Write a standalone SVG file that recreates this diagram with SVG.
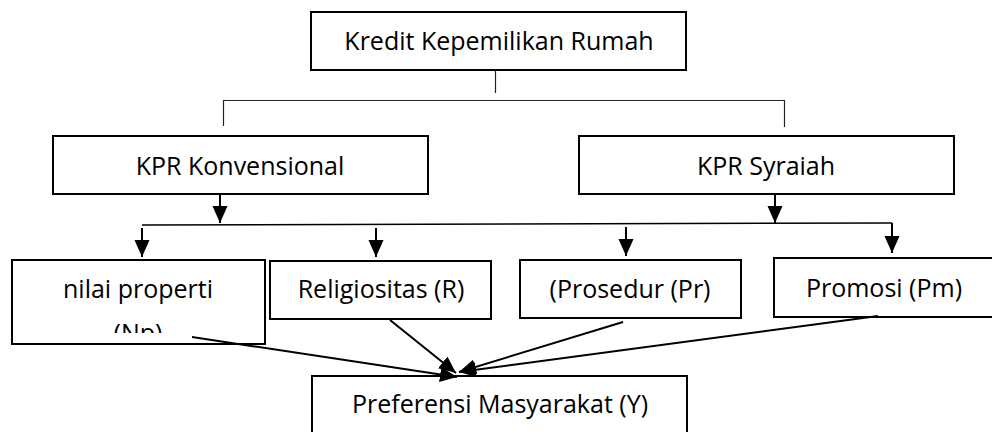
<svg xmlns="http://www.w3.org/2000/svg" width="992" height="432" viewBox="0 0 992 432">
<style>
.box{fill:#fff;stroke:#000;stroke-width:2}
.t{font-family:"Open Sans","Noto Sans",sans-serif;font-size:25px;fill:#000;text-anchor:middle}
.thin{stroke:#222;stroke-width:1.2;fill:none}
.arr{stroke:#000;stroke-width:2;fill:none;marker-end:url(#ah)}
</style>
<defs>
<marker id="ah" markerUnits="userSpaceOnUse" markerWidth="20" markerHeight="16" refX="17" refY="7.5" orient="auto">
<path d="M0,0 L17,7.5 L0,15 z" fill="#000"/>
</marker>
<clipPath id="npclip"><rect x="12" y="260" width="253" height="73"/></clipPath>
</defs>
<rect width="992" height="432" fill="#fff"/>
<g id="kpr">
<rect class="box" x="311" y="12" width="375" height="58"/>
<text class="t" x="499" y="50">Kredit Kepemilikan Rumah</text>
</g>
<g id="konvensional">
<rect class="box" x="53" y="136" width="375" height="58"/>
<text class="t" x="240" y="175">KPR Konvensional</text>
</g>
<g id="syariah">
<rect class="box" x="579" y="136" width="375" height="58"/>
<text class="t" x="766" y="175">KPR Syraiah</text>
</g>
<g id="nilai">
<rect class="box" x="12" y="260" width="253" height="84"/>
<text class="t" x="138" y="298">nilai properti</text>
<text class="t" x="138" y="342" clip-path="url(#npclip)">(Np)</text>
</g>
<g id="religiositas">
<rect class="box" x="270" y="261" width="221" height="58"/>
<text class="t" x="381" y="298">Religiositas (R)</text>
</g>
<g id="prosedur">
<rect class="box" x="520" y="260" width="221" height="58"/>
<text class="t" x="630" y="298">(Prosedur (Pr)</text>
</g>
<g id="promosi">
<rect class="box" x="774" y="258" width="230" height="59"/>
<text class="t" x="884" y="297">Promosi (Pm)</text>
</g>
<g id="preferensi">
<rect class="box" x="312" y="376" width="375" height="70"/>
<text class="t" x="500" y="413">Preferensi Masyarakat (Y)</text>
</g>
<g id="connectors">
<line class="thin" x1="495.5" y1="71" x2="495.5" y2="93"/>
<polyline class="thin" points="223.5,126 223.5,100.5 784.5,100.5 784.5,127"/>
<line class="arr" x1="220" y1="195" x2="220" y2="223"/>
<line class="arr" x1="775" y1="195" x2="775" y2="223"/>
<polyline points="142,225 892,223" stroke="#000" stroke-width="1.5" fill="none"/>
<line class="arr" x1="142" y1="228" x2="142" y2="257"/>
<line class="arr" x1="376" y1="228" x2="376" y2="257"/>
<line class="arr" x1="626" y1="227" x2="626" y2="256"/>
<line class="arr" x1="892" y1="223" x2="892" y2="253"/>
<line class="arr" x1="192" y1="337" x2="457" y2="377"/>
<line class="arr" x1="390" y1="320" x2="456" y2="373"/>
<line class="arr" x1="623" y1="322" x2="459" y2="372"/>
<line class="arr" x1="878" y1="316" x2="459" y2="372"/>
</g>
</svg>
